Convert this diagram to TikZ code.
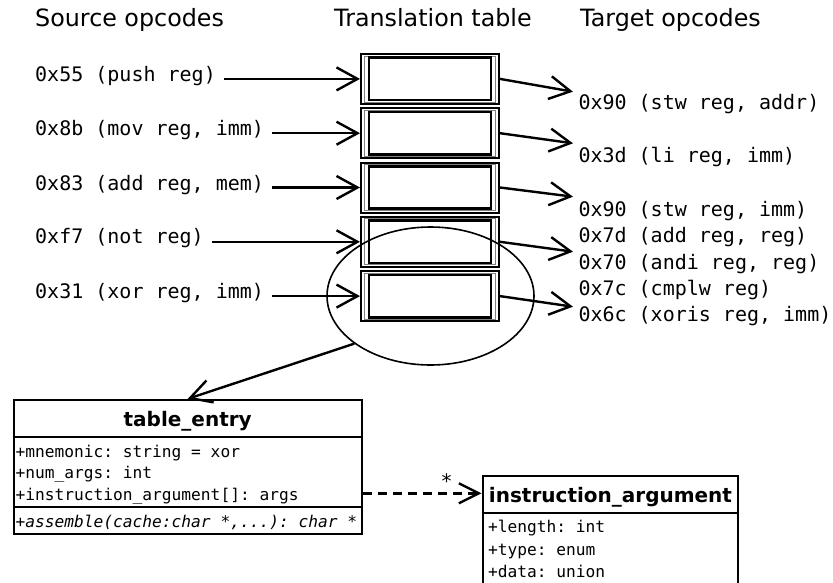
\documentclass[tikz,border=0pt]{standalone}
\usepackage{fontspec}
\setmainfont{DejaVu Sans}
\setmonofont{DejaVu Sans Mono}[ItalicFont={DejaVu Sans Mono Oblique},BoldFont={DejaVu Sans Mono Bold}]
\usetikzlibrary{arrows.meta,shapes.geometric}
\begin{document}
\begin{tikzpicture}[x=1pt,y=-1pt,
  hdr/.style={anchor=base west, inner sep=0, font=\fontsize{23.8}{28}\selectfont},
  op/.style={anchor=base west, inner sep=0, font=\ttfamily\fontsize{20}{24}\selectfont},
  attr/.style={anchor=base west, inner sep=0, font=\ttfamily\fontsize{16.2}{19}\selectfont},
  ttl/.style={anchor=base, inner sep=0, font=\bfseries\fontsize{20}{24}\selectfont},
  cellbox/.style={draw, line width=2pt, minimum width=138pt, minimum height=50pt, inner sep=0},
  cellmid/.style={draw=gray, line width=0.7pt, minimum width=131pt, minimum height=46pt, inner sep=0},
  cellin/.style={draw, line width=2.6pt, minimum width=122pt, minimum height=42.5pt, inner sep=0},
  umlbox/.style={draw, line width=2.3pt, inner sep=0},
  arr/.style={line width=2.4pt, -{Straight Barb[length=21pt,width=23pt]}},
]
\useasboundingbox (0,0) rectangle (833,582);
\clip (0,0) rectangle (833,582);

% headers
\node[hdr] (h1) at (35,26) {Source opcodes};
\node[hdr] (h2) at (334,26) {Translation table};
\node[hdr] (h3) at (580,26) {Target opcodes};

% translation table cells
\foreach \i/\y in {1/78.9,2/133.2,3/187.5,4/241.8,5/296.1}{
  \node[cellbox] (c\i) at (430,\y) {};
  \node[cellmid] (m\i) at (430,\y) {};
  \node[cellin] (n\i) at (430,\y) {};
}

% source opcodes
\node[op] (s1) at (35,81) {0x55 (push reg)};
\node[op] (s2) at (35,135) {0x8b (mov reg, imm)};
\node[op] (s3) at (35,190) {0x83 (add reg, mem)};
\node[op] (s4) at (35,243.5) {0xf7 (not reg)};
\node[op] (s5) at (35,298.3) {0x31 (xor reg, imm)};

% target opcodes
\node[op] (t1) at (578.3,109.3) {0x90 (stw reg, addr)};
\node[op] (t2) at (578.3,162.3) {0x3d (li reg, imm)};
\node[op] (t3) at (578.3,216.7) {0x90 (stw reg, imm)};
\node[op] (t4) at (578.3,242.9) {0x7d (add reg, reg)};
\node[op] (t5) at (578.3,269.1) {0x70 (andi reg, reg)};
\node[op] (t6) at (578.3,295.3) {0x7c (cmplw reg)};
\node[op] (t7) at (578.3,321.5) {0x6c (xoris reg, imm)};

% arrows into table
\foreach \i in {1,...,5}{
  \draw[arr, shorten <=8pt] (s\i.east |- c\i.west) -- (c\i.west);
}

% arrows out of table
\coordinate (r1) at (573,91.7);
\coordinate (r2) at (573,143.3);
\coordinate (r3) at (573,196.7);
\coordinate (r4) at (573,251.7);
\coordinate (r5) at (573,306.7);
\foreach \i in {1,...,5}{
  \draw[arr] (c\i.east) -- (r\i);
}

% ellipse highlighting last entry
\node[draw, ellipse, line width=1.6pt, minimum width=207pt, minimum height=138pt, inner sep=0] (ell) at (430.5,296) {};

% table_entry class
\node[umlbox, minimum width=348pt, minimum height=134pt] (te) at (187.7,467) {};
\draw[line width=2.3pt] (te.west |- 0,436.7) -- (te.east |- 0,436.7);
\draw[line width=2.3pt] (te.west |- 0,507.3) -- (te.east |- 0,507.3);
\node[ttl] (tet) at (187.7,426) {table\_entry};
\node[attr] (a1) at (15.5,457.3) {+mnemonic: string = xor};
\node[attr] (a2) at (15.5,478.6) {+num\_args: int};
\node[attr] (a3) at (15.5,500) {+instruction\_argument[]: args};
\node[attr] (a4) at (15.5,527.7) {\itshape +assemble(cache:char *,...): char *};

% instruction_argument class
\node[umlbox, minimum width=255.6pt, minimum height=124pt] (ia) at (610.5,538) {};
\draw[line width=2.3pt] (ia.west |- 0,512.7) -- (ia.east |- 0,512.7);
\node[ttl] (iat) at (610.5,502.7) {instruction\_argument};
\node[attr] (b1) at (488,532.7) {+length: int};
\node[attr] (b2) at (488,555) {+type: enum};
\node[attr] (b3) at (488,577.3) {+data: union};

% connectors
\draw[arr] (ell.212) -- (te.north);
\draw[line width=2.4pt, dash pattern=on 9pt off 6pt, -{Straight Barb[length=20pt,width=20pt]}] (te.east |- 0,493.3) -- (ia.west |- 0,493.3);
\node[inner sep=0, font=\fontsize{20}{24}\selectfont] (star) at (446.5,481) {*};
\end{tikzpicture}
\end{document}
